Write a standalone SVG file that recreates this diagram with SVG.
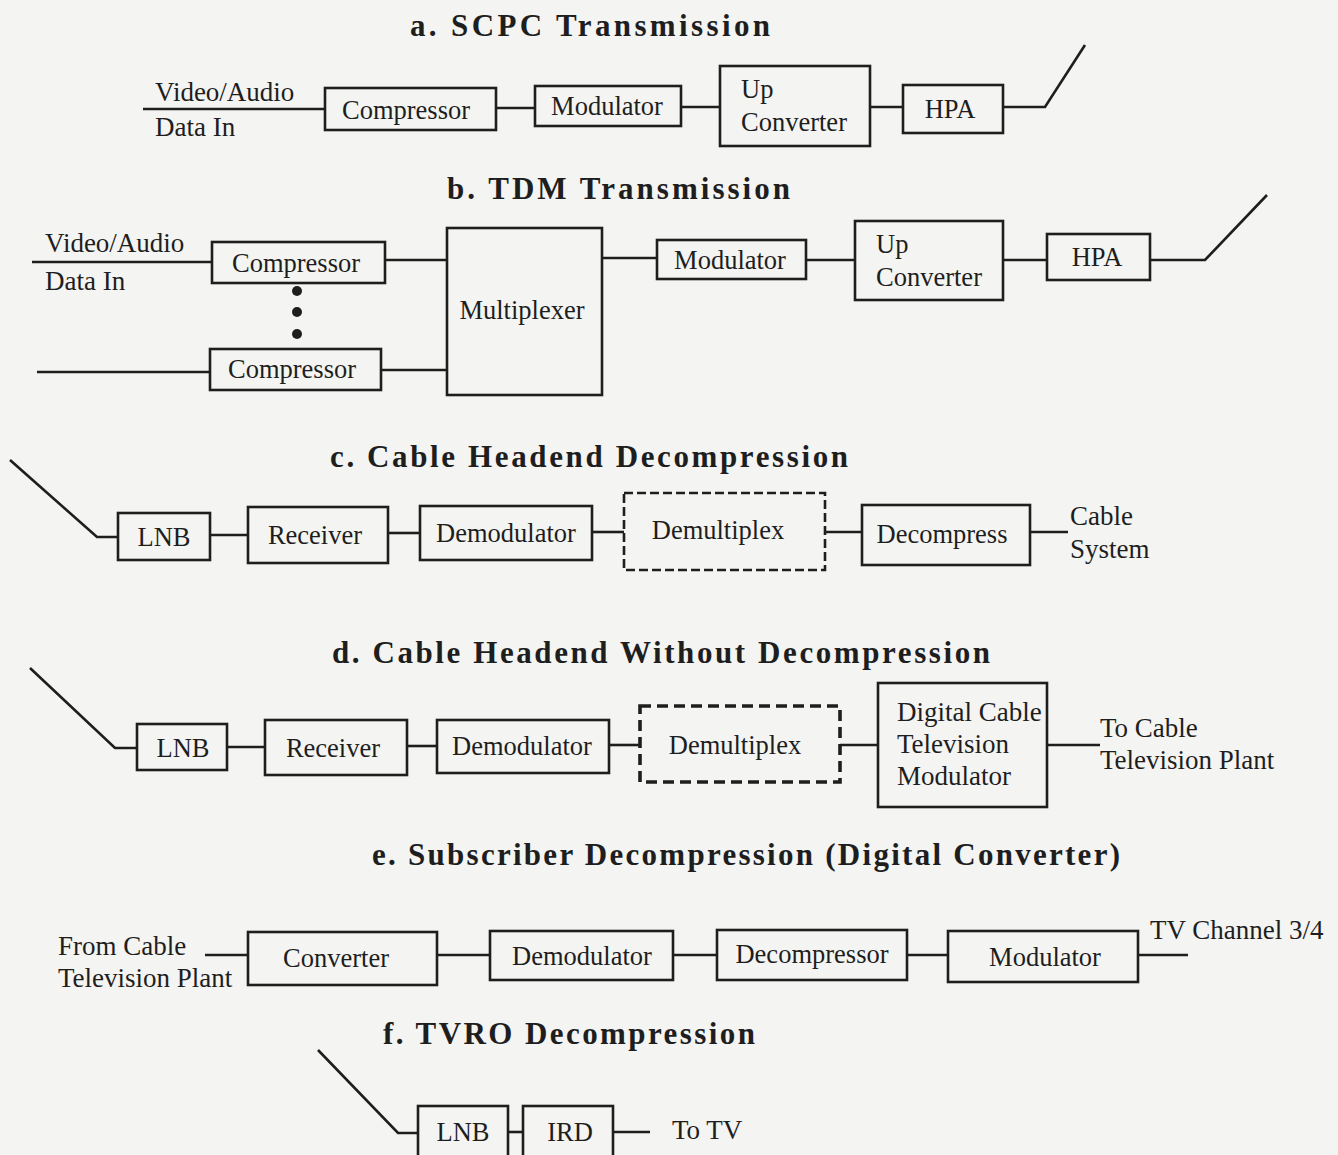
<svg xmlns="http://www.w3.org/2000/svg" width="1338" height="1155" viewBox="0 0 1338 1155">
<style>
.bg{fill:#f4f4f2}
.box{fill:none;stroke:#1e1e1e;stroke-width:2.6}
.dash{fill:none;stroke:#1e1e1e;stroke-width:2.6;stroke-dasharray:9 4}
.dashd{fill:none;stroke:#1e1e1e;stroke-width:3.6;stroke-dasharray:11 6}
.ln{fill:none;stroke:#1e1e1e;stroke-width:2.6}
.t{font-family:"Liberation Serif","Times New Roman",serif;font-size:26.5px;fill:#1e1e1e}
.l{font-family:"Liberation Serif","Times New Roman",serif;font-size:27px;fill:#1e1e1e}
.c{text-anchor:middle;dominant-baseline:central}
.h{font-family:"Liberation Serif","Times New Roman",serif;font-size:31px;font-weight:bold;fill:#1e1e1e}
</style>
<rect class="bg" x="0" y="0" width="1338" height="1155"/>

<!-- Titles -->
<text class="h" x="410" y="36" textLength="360" lengthAdjust="spacing">a. SCPC Transmission</text>
<text class="h" x="447" y="199" textLength="343" lengthAdjust="spacing">b. TDM Transmission</text>
<text class="h" x="330" y="467" textLength="518" lengthAdjust="spacing">c. Cable Headend Decompression</text>
<text class="h" x="332" y="663" textLength="658" lengthAdjust="spacing">d. Cable Headend Without Decompression</text>
<text class="h" x="372" y="865" textLength="748" lengthAdjust="spacing">e. Subscriber Decompression (Digital Converter)</text>
<text class="h" x="383" y="1044" textLength="372" lengthAdjust="spacing">f. TVRO Decompression</text>

<!-- Free labels -->
<text class="l" x="155" y="101">Video/Audio</text>
<text class="l" x="155" y="136">Data In</text>
<text class="l" x="45" y="252">Video/Audio</text>
<text class="l" x="45" y="290">Data In</text>
<text class="l" x="1070" y="525">Cable</text>
<text class="l" x="1070" y="558">System</text>
<text class="l" x="1100" y="737">To Cable</text>
<text class="l" x="1100" y="769">Television Plant</text>
<text class="l" x="58" y="955">From Cable</text>
<text class="l" x="58" y="987">Television Plant</text>
<text class="l" x="1150" y="939">TV Channel 3/4</text>
<text class="l" x="672" y="1139">To TV</text>

<!-- Connectors -->
<g id="connectors">
  <!-- a -->
  <line class="ln" x1="143" y1="109" x2="325" y2="109"/>
  <line class="ln" x1="496" y1="108" x2="535" y2="108"/>
  <line class="ln" x1="681" y1="107" x2="720" y2="107"/>
  <line class="ln" x1="870" y1="107" x2="903" y2="107"/>
  <polyline class="ln" points="1003,107 1045,107 1085,45"/>
  <!-- b -->
  <line class="ln" x1="32" y1="262" x2="212" y2="262"/>
  <line class="ln" x1="37" y1="372" x2="210" y2="372"/>
  <line class="ln" x1="385" y1="260" x2="447" y2="260"/>
  <line class="ln" x1="381" y1="370" x2="447" y2="370"/>
  <line class="ln" x1="602" y1="258" x2="657" y2="258"/>
  <line class="ln" x1="806" y1="260" x2="855" y2="260"/>
  <line class="ln" x1="1003" y1="260" x2="1047" y2="260"/>
  <polyline class="ln" points="1150,260 1205,260 1267,195"/>
  <circle cx="297" cy="291" r="5" fill="#1e1e1e"/>
  <circle cx="297" cy="312" r="5" fill="#1e1e1e"/>
  <circle cx="297" cy="334" r="5" fill="#1e1e1e"/>
  <!-- c -->
  <polyline class="ln" points="10,460 97,537 118,537"/>
  <line class="ln" x1="210" y1="535" x2="248" y2="535"/>
  <line class="ln" x1="388" y1="533" x2="420" y2="533"/>
  <line class="ln" x1="592" y1="532" x2="624" y2="532"/>
  <line class="ln" x1="825" y1="532" x2="862" y2="532"/>
  <line class="ln" x1="1030" y1="532" x2="1068" y2="532"/>
  <!-- d -->
  <polyline class="ln" points="30,668 115,748 137,748"/>
  <line class="ln" x1="227" y1="747" x2="265" y2="747"/>
  <line class="ln" x1="407" y1="746" x2="437" y2="746"/>
  <line class="ln" x1="609" y1="745" x2="640" y2="745"/>
  <line class="ln" x1="840" y1="745" x2="878" y2="745"/>
  <line class="ln" x1="1047" y1="745" x2="1100" y2="745"/>
  <!-- e -->
  <line class="ln" x1="205" y1="955" x2="248" y2="955"/>
  <line class="ln" x1="437" y1="955" x2="490" y2="955"/>
  <line class="ln" x1="673" y1="955" x2="717" y2="955"/>
  <line class="ln" x1="907" y1="955" x2="948" y2="955"/>
  <line class="ln" x1="1138" y1="955" x2="1188" y2="955"/>
  <!-- f -->
  <polyline class="ln" points="318,1050 398,1133 418,1133"/>
  <line class="ln" x1="508" y1="1132" x2="523" y2="1132"/>
  <line class="ln" x1="613" y1="1132" x2="650" y2="1132"/>
</g>

<!-- a nodes -->
<g id="a-compressor"><rect class="box" x="325" y="88" width="171" height="42"/><text class="t c" x="406" y="110">Compressor</text></g>
<g id="a-modulator"><rect class="box" x="535" y="86" width="146" height="40"/><text class="t c" x="607" y="106">Modulator</text></g>
<g id="a-upconverter"><rect class="box" x="720" y="66" width="150" height="80"/><text class="t" x="741" y="98">Up</text><text class="t" x="741" y="131">Converter</text></g>
<g id="a-hpa"><rect class="box" x="903" y="85" width="100" height="48"/><text class="t c" x="950" y="109">HPA</text></g>

<!-- b nodes -->
<g id="b-compressor1"><rect class="box" x="212" y="242" width="173" height="41"/><text class="t c" x="296" y="263">Compressor</text></g>
<g id="b-compressor2"><rect class="box" x="210" y="349" width="171" height="41"/><text class="t c" x="292" y="369">Compressor</text></g>
<g id="b-multiplexer"><rect class="box" x="447" y="228" width="155" height="167"/><text class="t c" x="522" y="310">Multiplexer</text></g>
<g id="b-modulator"><rect class="box" x="657" y="240" width="149" height="39"/><text class="t c" x="730" y="260">Modulator</text></g>
<g id="b-upconverter"><rect class="box" x="855" y="221" width="148" height="79"/><text class="t" x="876" y="253">Up</text><text class="t" x="876" y="286">Converter</text></g>
<g id="b-hpa"><rect class="box" x="1047" y="234" width="103" height="46"/><text class="t c" x="1097" y="257">HPA</text></g>

<!-- c nodes -->
<g id="c-lnb"><rect class="box" x="118" y="513" width="92" height="47"/><text class="t c" x="164" y="537">LNB</text></g>
<g id="c-receiver"><rect class="box" x="248" y="507" width="140" height="56"/><text class="t c" x="315" y="535">Receiver</text></g>
<g id="c-demodulator"><rect class="box" x="420" y="506" width="172" height="54"/><text class="t c" x="506" y="533">Demodulator</text></g>
<g id="c-demultiplex"><rect class="dash" x="624" y="493" width="201" height="77"/><text class="t c" x="718" y="530">Demultiplex</text></g>
<g id="c-decompress"><rect class="box" x="862" y="505" width="168" height="60"/><text class="t c" x="942" y="534">Decompress</text></g>

<!-- d nodes -->
<g id="d-lnb"><rect class="box" x="137" y="724" width="90" height="46"/><text class="t c" x="183" y="748">LNB</text></g>
<g id="d-receiver"><rect class="box" x="265" y="720" width="142" height="55"/><text class="t c" x="333" y="748">Receiver</text></g>
<g id="d-demodulator"><rect class="box" x="437" y="720" width="172" height="53"/><text class="t c" x="522" y="746">Demodulator</text></g>
<g id="d-demultiplex"><rect class="dashd" x="640" y="706" width="200" height="76"/><text class="t c" x="735" y="745">Demultiplex</text></g>
<g id="d-modulator"><rect class="box" x="878" y="683" width="169" height="124"/><text class="l" x="897" y="721">Digital Cable</text><text class="l" x="897" y="753">Television</text><text class="l" x="897" y="785">Modulator</text></g>

<!-- e nodes -->
<g id="e-converter"><rect class="box" x="248" y="932" width="189" height="53"/><text class="t c" x="336" y="958">Converter</text></g>
<g id="e-demodulator"><rect class="box" x="490" y="931" width="183" height="49"/><text class="t c" x="582" y="956">Demodulator</text></g>
<g id="e-decompressor"><rect class="box" x="717" y="930" width="190" height="50"/><text class="t c" x="812" y="954">Decompressor</text></g>
<g id="e-modulator"><rect class="box" x="948" y="931" width="190" height="51"/><text class="t c" x="1045" y="957">Modulator</text></g>

<!-- f nodes -->
<g id="f-lnb"><rect class="box" x="418" y="1106" width="90" height="52"/><text class="t c" x="463" y="1132">LNB</text></g>
<g id="f-ird"><rect class="box" x="523" y="1106" width="90" height="52"/><text class="t c" x="570" y="1132">IRD</text></g>
</svg>
